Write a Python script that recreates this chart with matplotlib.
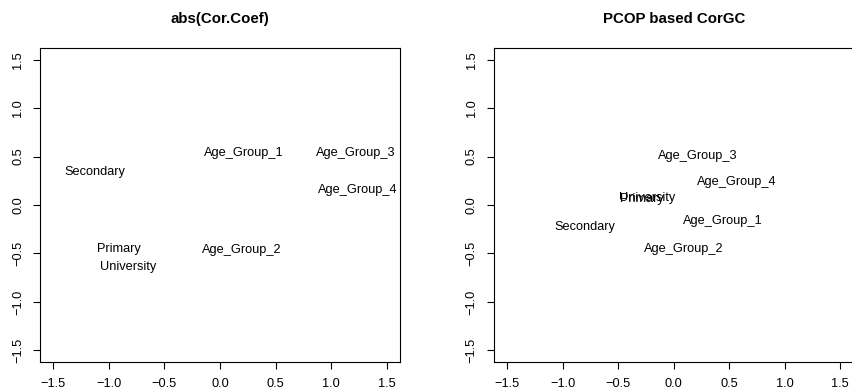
import matplotlib
matplotlib.use("Agg")
import matplotlib.pyplot as plt

plt.rcParams['font.family'] = ['Liberation Sans', 'DejaVu Sans']

labels_left = ['Age_Group_1', 'Age_Group_3', 'Secondary', 'Age_Group_4',
               'Primary', 'Age_Group_2', 'University']
x_left = [0.21, 1.22, -1.13, 1.24, -0.91, 0.20, -0.83]
y_left = [0.54, 0.54, 0.34, 0.155, -0.455, -0.46, -0.64]

labels_right = ['Age_Group_3', 'Age_Group_4', 'University', 'Primary',
                'Age_Group_1', 'Secondary', 'Age_Group_2']
x_right = [0.215, 0.57, -0.24, -0.29, 0.445, -0.80, 0.09]
y_right = [0.51, 0.24, 0.075, 0.06, -0.17, -0.225, -0.455]

ticks = [-1.5, -1.0, -0.5, 0.0, 0.5, 1.0, 1.5]
tick_labels = ['\u22121.5', '\u22121.0', '\u22120.5', '0.0', '0.5', '1.0', '1.5']

fig = plt.figure(figsize=(8.53, 3.91), dpi=100)


def panel(rect, title, labels, xs, ys):
    ax = fig.add_axes(rect)
    for lab, x, y in zip(labels, xs, ys):
        ax.text(x, y, lab, ha='center', va='center', fontsize=9.2)
    ax.set_xlim(-1.62, 1.62)
    ax.set_ylim(-1.62, 1.62)
    ax.set_xticks(ticks)
    ax.set_xticklabels(tick_labels)
    ax.set_yticks(ticks)
    ax.set_yticklabels(tick_labels, rotation=90, va='center')
    ax.tick_params(direction='out', length=5, width=0.8, labelsize=9.2, pad=6.5)
    for s in ax.spines.values():
        s.set_linewidth(0.8)
    ax.set_title(title, fontsize=10.8, fontweight='bold', pad=18)
    return ax


panel([40 / 853, 29 / 391, 360 / 853, 314 / 391], 'abs(Cor.Coef)',
      labels_left, x_left, y_left)
panel([493.7 / 853, 29 / 391, 360 / 853, 314 / 391], 'PCOP based CorGC',
      labels_right, x_right, y_right)

fig.savefig('out.png', dpi=100)
